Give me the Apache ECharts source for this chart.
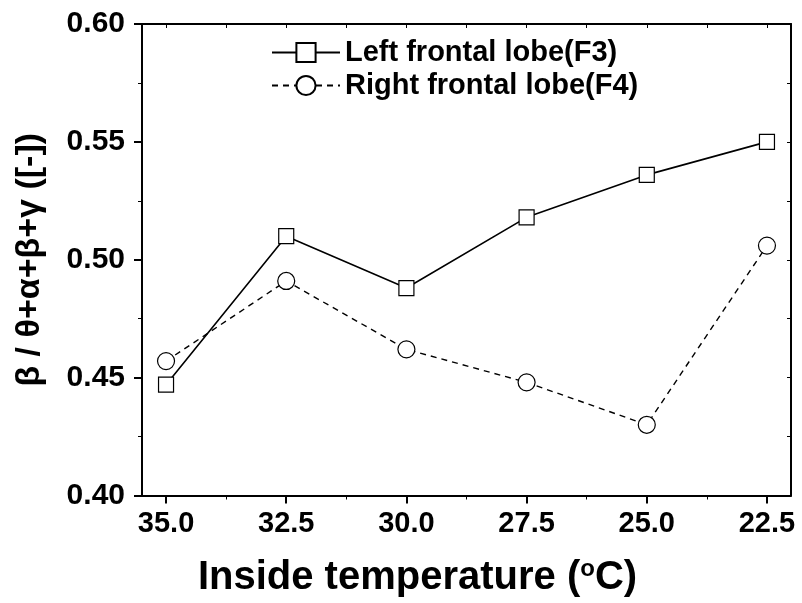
<!DOCTYPE html>
<html>
<head>
<meta charset="utf-8">
<script src="https://cdn.jsdelivr.net/npm/echarts@6/dist/echarts.min.js"></script>
<style>
  html, body { margin: 0; padding: 0; background: #fff; }
  #main { width: 802px; height: 603px; }
</style>
</head>
<body>
<div id="main"></div>
<script>
// inside temperature (°C), read left to right
const temps = [35.0, 32.5, 30.0, 27.5, 25.0, 22.5];
const leftF3 = [0.447, 0.510, 0.488, 0.518, 0.536, 0.550];
const rightF4 = [0.457, 0.491, 0.462, 0.448, 0.430, 0.506];
const xMajorTicks = [22.5, 25.0, 27.5, 30.0, 32.5, 35.0];
const xMinorTicks = [23.75, 26.25, 28.75, 31.25, 33.75];
const seriesNames = ['Left frontal lobe(F3)', 'Right frontal lobe(F4)'];

const FONT = '"Liberation Sans", Arial, sans-serif';

function pairs(ys) {
    return temps.map(function (t, i) { return [t, ys[i]]; });
}

const chart = echarts.init(document.getElementById('main'));

const xBase = {
    type: 'value',
    min: 22,
    max: 35.5,
    inverse: true,
    splitLine: { show: false }
};

chart.setOption({
    backgroundColor: '#fff',
    animation: false,
    grid: { left: 142, right: 11, top: 24, bottom: 107, containLabel: false },
    legend: {
        orient: 'vertical',
        left: 266,
        top: 33,
        itemWidth: 68,
        itemHeight: 24,
        itemGap: 4,
        data: seriesNames,
        textStyle: { fontFamily: FONT, fontWeight: 'bold', fontSize: 29, color: '#000' }
    },
    xAxis: [
        Object.assign({}, xBase, {
            position: 'bottom',
            axisLine: { lineStyle: { color: '#000', width: 2 } },
            axisTick: { show: true, inside: false, length: 8, customValues: xMajorTicks,
                lineStyle: { color: '#000', width: 2 } },
            axisLabel: {
                customValues: xMajorTicks,
                margin: 14,
                formatter: function (v) { return v.toFixed(1); },
                fontFamily: FONT, fontWeight: 'bold', fontSize: 29, color: '#000'
            },
            name: 'Inside temperature ({sup|o}C)',
            nameLocation: 'middle',
            nameGap: 62,
            nameTextStyle: {
                fontFamily: FONT, fontWeight: 'bold', fontSize: 40, color: '#000',
                padding: [0, 98, 0, 0],
                rich: {
                    sup: { fontFamily: FONT, fontWeight: 'bold', fontSize: 24, color: '#000',
                        padding: [0, 0, 17, 0] }
                }
            }
        }),
        Object.assign({}, xBase, {
            position: 'bottom',
            axisLine: { show: false },
            axisTick: { show: true, inside: false, length: 4, customValues: xMinorTicks,
                lineStyle: { color: '#000', width: 1 } },
            axisLabel: { show: false }
        }),
        Object.assign({}, xBase, {
            position: 'top',
            axisLine: { lineStyle: { color: '#000', width: 2 } },
            axisTick: { show: true, inside: true, length: 4,
                customValues: xMajorTicks.concat(xMinorTicks),
                lineStyle: { color: '#000', width: 1 } },
            axisLabel: { show: false }
        })
    ],
    yAxis: [
        {
            type: 'value',
            position: 'left',
            min: 0.40,
            max: 0.60,
            interval: 0.05,
            splitLine: { show: false },
            axisLine: { show: true, lineStyle: { color: '#000', width: 2 } },
            axisTick: { show: true, inside: false, length: 8, lineStyle: { color: '#000', width: 2 } },
            minorTick: { show: true, splitNumber: 2, length: 4, lineStyle: { color: '#000', width: 1 } },
            axisLabel: {
                margin: 17,
                formatter: function (v) { return v.toFixed(2); },
                fontFamily: FONT, fontWeight: 'bold', fontSize: 30, color: '#000'
            },
            name: 'β / θ+α+β+γ ([-])',
            nameLocation: 'middle',
            nameGap: 95,
            nameTextStyle: { fontFamily: FONT, fontWeight: 'bold', fontSize: 34, color: '#000' }
        },
        {
            type: 'value',
            position: 'right',
            min: 0.40,
            max: 0.60,
            interval: 0.05,
            splitLine: { show: false },
            axisLine: { show: true, lineStyle: { color: '#000', width: 2 } },
            axisTick: { show: true, inside: true, length: 4, lineStyle: { color: '#000', width: 1 } },
            minorTick: { show: true, splitNumber: 2, length: 4, lineStyle: { color: '#000', width: 1 } },
            axisLabel: { show: false }
        }
    ],
    series: [
        {
            name: seriesNames[0],
            type: 'line',
            data: pairs(leftF3),
            symbol: 'rect',
            symbolSize: 15,
            showAllSymbol: true,
            itemStyle: { color: '#fff', borderColor: '#000', borderWidth: 1.2 },
            lineStyle: { color: '#000', width: 1.6, type: 'solid' },
            z: 3
        },
        {
            name: seriesNames[1],
            type: 'line',
            data: pairs(rightF4),
            symbol: 'circle',
            symbolSize: 17,
            showAllSymbol: true,
            itemStyle: { color: '#fff', borderColor: '#000', borderWidth: 1.2 },
            lineStyle: { color: '#000', width: 1.4, type: [6, 5] },
            z: 3
        }
    ]
});

window.addEventListener('resize', function () {
    chart.resize();
});
</script>
</body>
</html>
